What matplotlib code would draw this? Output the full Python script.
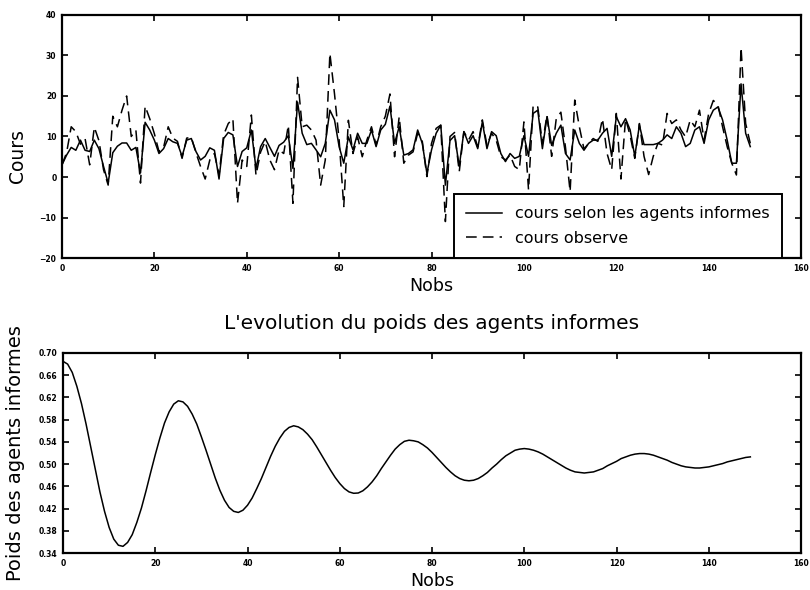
import numpy as np
import matplotlib
matplotlib.use("Agg")
import matplotlib.pyplot as plt

# ---------- data ----------
nobs = np.arange(150)

cours_informes = [
    3.0, 5.4, 7.3, 6.6, 9.1, 6.6, 6.3, 9.1, 7.0, 2.6,
    -1.5, 6.0, 7.6, 8.4, 8.4, 6.6, 7.3, 1.0, 13.5, 11.6,
    9.1, 5.8, 7.0, 9.5, 8.7, 8.3, 5.1, 9.1, 9.5, 6.3,
    4.2, 5.1, 7.2, 6.6, -0.5, 9.5, 11.0, 10.4, 2.6, 6.3,
    7.2, 11.6, 2.1, 7.5, 9.5, 7.3, 5.1, 7.8, 8.6, 10.2,
    2.1, 18.5, 10.8, 8.0, 8.3, 6.7, 5.0, 8.3, 16.5, 14.1,
    7.5, 3.4, 9.9, 6.7, 10.8, 8.3, 8.3, 11.6, 7.5, 11.6,
    13.0, 17.5, 8.3, 12.4, 5.4, 5.8, 6.7, 11.6, 8.3, 0.9,
    6.7, 10.8, 12.8, -2.0, 9.0, 10.2, 2.6, 11.2, 8.3, 10.2,
    7.0, 13.6, 7.0, 11.2, 10.2, 5.8, 3.8, 5.8, 4.6, 5.1,
    10.2, 5.1, 15.7, 16.5, 7.0, 14.9, 7.8, 10.8, 12.8, 5.8,
    4.2, 11.6, 8.3, 6.6, 8.3, 9.1, 9.1, 10.8, 12.0, 5.1,
    14.9, 12.4, 14.4, 11.6, 5.1, 12.8, 8.0, 8.0, 8.0, 8.3,
    9.1, 10.4, 9.5, 12.4, 10.8, 7.5, 8.3, 11.6, 12.4, 8.3,
    14.1, 16.5, 17.3, 14.1, 9.1, 3.4, 3.4, 23.0, 10.8, 7.5,
]

cours_observe = [
    3.0, 6.0, 12.4, 11.2, 8.1, 9.5, 3.0, 12.3, 9.0, 1.8,
    -2.0, 15.0, 12.4, 16.5, 20.0, 10.0, 11.6, -1.5, 17.5, 14.4,
    10.7, 6.3, 7.3, 12.4, 9.6, 8.8, 4.6, 9.6, 9.8, 6.0,
    2.6, -0.5, 4.2, 5.8, 0.5, 10.4, 13.2, 14.4, -6.5, 4.2,
    2.6, 15.3, 0.4, 6.2, 8.8, 4.2, 1.8, 6.7, 5.8, 12.8,
    -6.5, 24.6, 12.4, 12.8, 11.6, 9.1, -2.0, 4.2, 30.5, 20.5,
    9.1, -7.3, 14.0, 5.8, 9.9, 5.0, 9.1, 12.4, 7.9, 12.4,
    15.0, 20.5, 5.0, 14.9, 3.4, 5.4, 6.2, 10.8, 8.8, 0.1,
    8.3, 12.0, 12.8, -11.0, 10.0, 11.0, 1.3, 11.2, 9.1, 11.2,
    7.4, 14.1, 7.8, 10.8, 9.1, 5.0, 4.2, 5.4, 2.6, 1.8,
    13.6, -3.2, 17.8, 17.3, 8.3, 15.3, 5.1, 14.4, 16.0, 7.3,
    -3.6, 19.0, 12.4, 6.9, 8.3, 9.5, 8.8, 14.4, 5.8, 1.8,
    15.7, -0.5, 14.4, 10.2, 4.6, 13.2, 5.1, 0.6, 5.1, 8.3,
    7.9, 15.7, 13.2, 14.1, 11.6, 9.9, 14.1, 12.4, 16.5, 9.1,
    15.7, 18.9, 17.8, 12.4, 7.5, 3.4, 0.5, 32.0, 13.2, 8.3,
]

poids_informes = [
    0.685, 0.680, 0.665, 0.640, 0.609, 0.572, 0.531, 0.490, 0.450, 0.415,
    0.386, 0.365, 0.354, 0.352, 0.359, 0.373, 0.395, 0.421, 0.452, 0.485,
    0.517, 0.547, 0.574, 0.594, 0.608, 0.614, 0.612, 0.604, 0.590, 0.572,
    0.549, 0.525, 0.500, 0.475, 0.453, 0.435, 0.422, 0.415, 0.413, 0.417,
    0.426, 0.439, 0.456, 0.474, 0.494, 0.514, 0.532, 0.547, 0.559, 0.566,
    0.569, 0.567, 0.562, 0.554, 0.544, 0.531, 0.517, 0.503, 0.489, 0.476,
    0.465, 0.456, 0.450, 0.4475, 0.448, 0.452, 0.459, 0.468, 0.479, 0.492,
    0.504, 0.516, 0.527, 0.535, 0.541, 0.543, 0.542, 0.540, 0.535, 0.529,
    0.521, 0.512, 0.503, 0.494, 0.486, 0.479, 0.474, 0.471, 0.470, 0.471,
    0.474, 0.479, 0.485, 0.493, 0.500, 0.508, 0.515, 0.520, 0.525, 0.527,
    0.528, 0.527, 0.525, 0.522, 0.518, 0.513, 0.508, 0.503, 0.498, 0.493,
    0.489, 0.486, 0.485, 0.484, 0.485, 0.486, 0.489, 0.492, 0.497, 0.501,
    0.505, 0.510, 0.513, 0.516, 0.518, 0.519, 0.519, 0.518, 0.516, 0.513,
    0.510, 0.507, 0.503, 0.500, 0.497, 0.495, 0.494, 0.493, 0.493, 0.494,
    0.495, 0.497, 0.499, 0.501, 0.504, 0.506, 0.508, 0.510, 0.512, 0.513,
]

x_ticks = np.arange(0, 161, 20)
top_y_ticks = np.arange(-20, 41, 10)
bottom_y_ticks = [0.34, 0.38, 0.42, 0.46, 0.50, 0.54, 0.58, 0.62, 0.66, 0.70]

# ---------- figure ----------
fig = plt.figure(figsize=(8.1, 5.9), dpi=100)
ax1 = fig.add_axes([0.0765, 0.5627, 0.9125, 0.4119])
ax2 = fig.add_axes([0.0778, 0.0627, 0.9112, 0.339])

dash_style = (0, (7, 4))

ax1.plot(nobs, cours_informes, color="black", lw=1.1,
         label="cours selon les agents informes")
ax1.plot(nobs, cours_observe, color="black", lw=1.1, linestyle=dash_style,
         label="cours observe")
ax1.set_xlim(0, 160)
ax1.set_ylim(-20, 40)
ax1.set_xticks(x_ticks)
ax1.set_yticks(top_y_ticks)
ax1.set_xlabel("Nobs", fontsize=12.5, labelpad=3)
ax1.set_ylabel("Cours", fontsize=13.5)
ax1.yaxis.set_label_coords(-0.047, 0.42)

leg = ax1.legend(loc="lower right", bbox_to_anchor=(0.974, 0.0),
                 borderaxespad=0, fontsize=11.5, fancybox=False,
                 handlelength=2.3, handletextpad=0.8, borderpad=0.75,
                 labelspacing=0.6, framealpha=1)
leg.get_frame().set_edgecolor("black")
leg.get_frame().set_linewidth(1.4)

ax2.plot(nobs, poids_informes, color="black", lw=1.1)
ax2.set_xlim(0, 160)
ax2.set_ylim(0.34, 0.70)
ax2.set_xticks(x_ticks)
ax2.set_yticks(bottom_y_ticks)
ax2.set_yticklabels([f"{v:.2f}" for v in bottom_y_ticks])
ax2.set_xlabel("Nobs", fontsize=12.5, labelpad=3)
ax2.set_ylabel("Poids des agents informes", fontsize=14)
ax2.yaxis.set_label_coords(-0.052, 0.5)
ax2.set_title("L'evolution du poids des agents informes", fontsize=14.5, pad=17)

for ax in (ax1, ax2):
    for sp in ax.spines.values():
        sp.set_linewidth(1.6)
    ax.tick_params(direction="in", length=4, width=1.2, top=True, right=True,
                   labelsize=5.5, pad=4)
    for lab in ax.get_xticklabels() + ax.get_yticklabels():
        lab.set_fontweight("bold")

plt.savefig("out.png", dpi=100)
